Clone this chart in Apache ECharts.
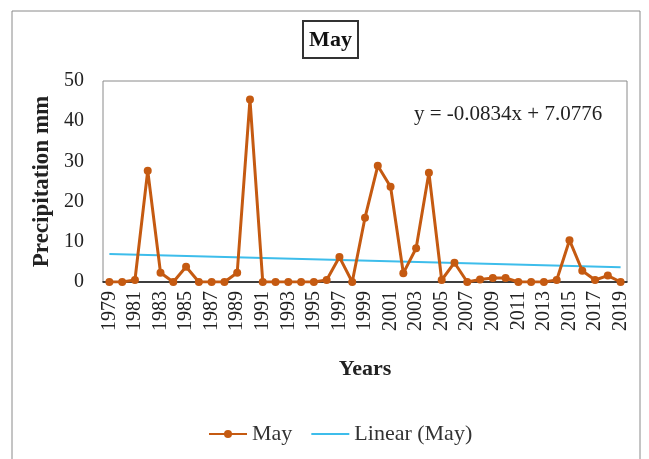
<!DOCTYPE html>
<html>
<head>
<meta charset="utf-8">
<script src="https://cdn.jsdelivr.net/npm/echarts@6/dist/echarts.min.js"></script>
<style>
  html, body { margin: 0; padding: 0; background: #fff; }
  #chart { width: 649px; height: 459px; }
</style>
</head>
<body>
<div id="chart"></div>
<script>
// Monthly precipitation for May, 1979-2019 (mm)
const years = [];
for (let y = 1979; y <= 2019; y++) years.push(String(y));

const mayPrecip = [
  0, 0, 0.5, 27.7, 2.3, 0, 3.8, 0, 0, 0,
  2.3, 45.4, 0, 0, 0, 0, 0, 0.5, 6.2, 0,
  16, 28.9, 23.7, 2.2, 8.4, 27.2, 0.5, 4.8, 0, 0.6,
  1, 1, 0, 0, 0, 0.5, 10.4, 2.8, 0.5, 1.6,
  0, 0.5
].slice(0, 41);

// Linear trend coefficients (x = 1 for the first year)
const trendSlope = -0.0834;
const trendIntercept = 7.0776;
const trendLabel = 'y = -0.0834x + 7.0776';

const yTicks = [0, 10, 20, 30, 40, 50];

// Trend line only needs its two end points
const trendData = years.map((y, i) =>
  (i === 0 || i === years.length - 1) ? +(trendSlope * (i + 1) + trendIntercept).toFixed(4) : null
);

const serif = '"Liberation Serif", "Times New Roman", serif';
const chart = echarts.init(document.getElementById('chart'), null, { renderer: 'canvas' });

chart.setOption({
  backgroundColor: '#fff',
  animation: false,
  graphic: [
    { type: 'rect', shape: { x: 12, y: 11, width: 628, height: 470 },
      style: { fill: 'none', stroke: '#8a8a8a', lineWidth: 1 } },
    { type: 'rect', shape: { x: 303, y: 21, width: 55, height: 37 },
      style: { fill: '#fff', stroke: '#333', lineWidth: 2 } },
    { type: 'text', x: 330.5, y: 40,
      style: { text: 'May', font: 'bold 22px ' + serif, fill: '#111',
               align: 'center', verticalAlign: 'middle' } },
    { type: 'text', left: 414, top: 104,
      style: { text: trendLabel, font: '21px ' + serif, fill: '#222' } }
  ],
  grid: {
    left: 103, right: 22, top: 81, bottom: 177,
    show: true, borderColor: '#8a8a8a', borderWidth: 1, containLabel: false
  },
  legend: {
    top: 418, left: 203,
    itemGap: 18, itemWidth: 38, itemHeight: 10,
    textStyle: { fontFamily: serif, fontSize: 22, color: '#333' },
    data: [
      { name: 'May' },
      { name: 'Linear (May)', itemStyle: { opacity: 0 } }
    ]
  },
  xAxis: {
    type: 'category',
    data: years,
    boundaryGap: true,
    name: 'Years',
    nameLocation: 'middle',
    nameGap: 76,
    nameTextStyle: { fontFamily: serif, fontSize: 22, fontWeight: 'bold', color: '#222' },
    axisLine: { show: true, lineStyle: { color: '#111', width: 1.5 } },
    axisTick: { show: false },
    axisLabel: {
      interval: 1, rotate: 90, margin: 9,
      fontFamily: serif, fontSize: 20, color: '#222'
    },
    splitLine: { show: false }
  },
  yAxis: {
    type: 'value',
    min: yTicks[0], max: yTicks[yTicks.length - 1], interval: 10,
    name: 'Precipitation mm',
    nameLocation: 'middle',
    nameGap: 46,
    nameTextStyle: { fontFamily: serif, fontSize: 23, fontWeight: 'bold', color: '#222' },
    axisLine: { show: false },
    axisTick: { show: false },
    axisLabel: { margin: 19, fontFamily: serif, fontSize: 20, color: '#222' },
    splitLine: { show: false }
  },
  series: [
    {
      name: 'May',
      type: 'line',
      data: mayPrecip,
      symbol: 'circle',
      symbolSize: 8,
      itemStyle: { color: '#C55A11' },
      lineStyle: { color: '#C55A11', width: 3 },
      z: 3
    },
    {
      name: 'Linear (May)',
      type: 'line',
      data: trendData,
      connectNulls: true,
      symbol: 'none',
      itemStyle: { color: '#3DBDEB' },
      lineStyle: { color: '#3DBDEB', width: 2 },
      z: 2
    }
  ]
});
</script>
</body>
</html>
